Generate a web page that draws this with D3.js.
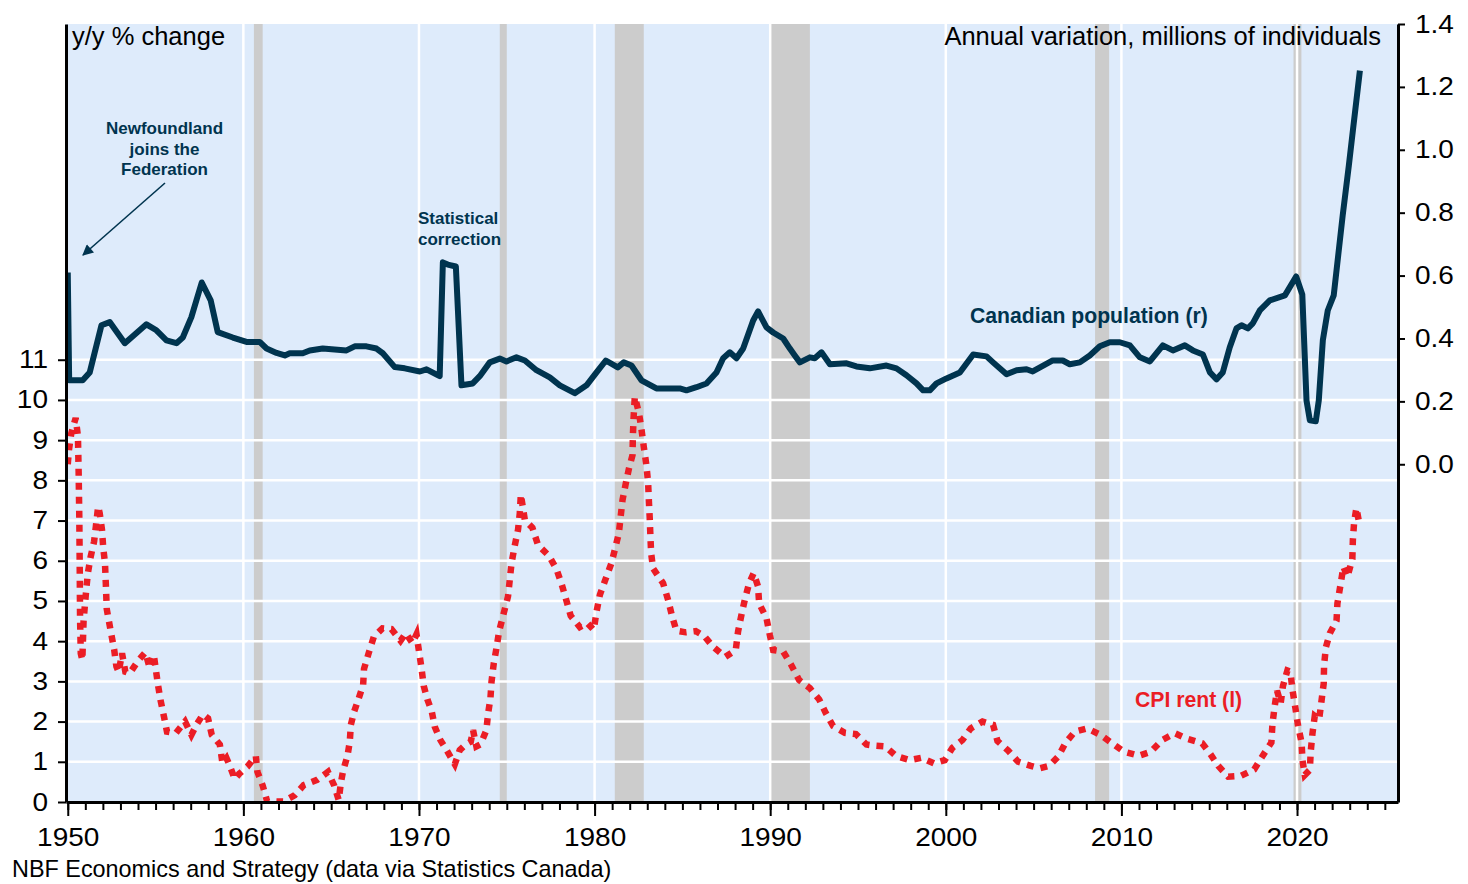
<!DOCTYPE html>
<html>
<head>
<meta charset="utf-8">
<script src="https://cdn.jsdelivr.net/npm/d3@7"></script>
<style>
  body { margin: 0; background: #fff; }
  svg text { font-family: "Liberation Sans", Arial, sans-serif; }
</style>
</head>
<body>
<svg id="chart" width="1468" height="884"></svg>
<script>
// ticks
const yearTicks = [1950, 1960, 1970, 1980, 1990, 2000, 2010, 2020]
const leftTicks = [0, 1, 2, 3, 4, 5, 6, 7, 8, 9, 10, 11]
const rightTicks = [0.0, 0.2, 0.4, 0.6, 0.8, 1.0, 1.2, 1.4]

// recessions (start, end)
const recessions = [[1960.6, 1961.1], [1974.6, 1975.0], [1981.15, 1982.8], [1990.0, 1992.26], [2008.5, 2009.3], [2019.8, 2020.25]]

// Canadian population, annual variation (millions) - right axis
const popDates = [1950.0, 1950.08, 1950.85, 1951.25, 1951.92, 1952.39, 1953.25, 1954.48, 1955.05, 1955.62,
  1956.19, 1956.55, 1957.04, 1957.63, 1958.14, 1958.54, 1959.40, 1960.18, 1960.93, 1961.32,
  1961.89, 1962.36, 1962.64, 1963.38, 1963.78, 1964.52, 1965.87, 1966.34, 1967.01, 1967.58,
  1967.94, 1968.62, 1969.19, 1970.05, 1970.43, 1971.18, 1971.36, 1971.64, 1972.10, 1972.42,
  1973.06, 1973.46, 1974.03, 1974.60, 1974.98, 1975.55, 1976.03, 1976.69, 1977.45, 1978.02,
  1978.87, 1979.54, 1980.11, 1980.64, 1981.32, 1981.66, 1982.10, 1982.67, 1983.52, 1984.85,
  1985.23, 1985.80, 1986.37, 1986.94, 1987.32, 1987.70, 1988.08, 1988.46, 1989.03, 1989.31,
  1989.79, 1990.17, 1990.74, 1991.12, 1991.40, 1991.69, 1992.26, 1992.54, 1992.92, 1993.40,
  1994.35, 1994.91, 1995.67, 1996.62, 1997.19, 1997.76, 1998.33, 1998.71, 1999.09, 1999.47,
  2000.04, 2000.80, 2001.56, 2002.32, 2002.69, 2003.46, 2004.03, 2004.60, 2004.95, 2006.09,
  2006.66, 2007.06, 2007.63, 2008.20, 2008.77, 2009.34, 2009.91, 2010.48, 2011.05, 2011.62,
  2012.36, 2012.93, 2013.61, 2014.07, 2014.64, 2015.04, 2015.42, 2015.77, 2016.17, 2016.55,
  2016.84, 2017.20, 2017.48, 2017.88, 2018.45, 2019.31, 2019.95, 2020.30, 2020.54, 2020.73,
  2021.07, 2021.24, 2021.47, 2021.75, 2022.09, 2022.60, 2022.95, 2023.18, 2023.58]
const popValues = [0.610, 0.267, 0.267, 0.292, 0.442, 0.452, 0.385, 0.445, 0.426, 0.394,
  0.385, 0.403, 0.468, 0.578, 0.521, 0.420, 0.403, 0.389, 0.389, 0.368,
  0.354, 0.346, 0.353, 0.353, 0.362, 0.368, 0.362, 0.375, 0.375, 0.368,
  0.353, 0.309, 0.305, 0.295, 0.302, 0.280, 0.642, 0.635, 0.629, 0.251,
  0.257, 0.280, 0.324, 0.336, 0.327, 0.340, 0.330, 0.299, 0.276, 0.251,
  0.226, 0.251, 0.292, 0.330, 0.308, 0.324, 0.314, 0.267, 0.241, 0.241,
  0.235, 0.245, 0.257, 0.292, 0.337, 0.356, 0.337, 0.368, 0.457, 0.486,
  0.435, 0.419, 0.400, 0.368, 0.346, 0.324, 0.340, 0.337, 0.356, 0.318,
  0.321, 0.311, 0.305, 0.314, 0.305, 0.283, 0.257, 0.235, 0.235, 0.257,
  0.273, 0.292, 0.349, 0.343, 0.324, 0.286, 0.299, 0.302, 0.295, 0.330,
  0.330, 0.318, 0.324, 0.346, 0.375, 0.388, 0.388, 0.378, 0.340, 0.327,
  0.378, 0.362, 0.378, 0.362, 0.349, 0.292, 0.270, 0.292, 0.372, 0.432,
  0.442, 0.432, 0.448, 0.489, 0.521, 0.537, 0.597, 0.540, 0.203, 0.140,
  0.137, 0.203, 0.394, 0.489, 0.537, 0.791, 0.950, 1.061, 1.252]

// CPI rent, y/y % change - left axis
const rentDates = [1950.00, 1950.07, 1950.20, 1950.45, 1950.58, 1950.62, 1950.66, 1950.68, 1950.70, 1950.74,
  1950.83, 1950.90, 1950.97, 1951.06, 1951.15, 1951.29, 1951.50, 1951.60, 1951.73, 1951.82,
  1951.95, 1952.02, 1952.12, 1952.17, 1952.22, 1952.45, 1952.64, 1952.77, 1952.90, 1953.09,
  1953.28, 1953.53, 1954.00, 1954.42, 1954.67, 1954.90, 1955.01, 1955.14, 1955.28, 1955.48,
  1955.65, 1956.15, 1956.68, 1957.04, 1957.33, 1957.70, 1957.99, 1958.20, 1958.66, 1958.81,
  1959.04, 1959.23, 1959.51, 1959.76, 1960.23, 1960.71, 1960.80, 1961.10, 1961.35, 1962.26,
  1962.93, 1963.44, 1964.20, 1964.82, 1965.17, 1965.43, 1965.55, 1965.68, 1965.93, 1966.06,
  1966.12, 1966.31, 1966.57, 1966.82, 1966.87, 1967.14, 1967.43, 1967.92, 1968.43, 1968.95,
  1969.25, 1969.63, 1969.86, 1969.99, 1970.14, 1970.27, 1970.48, 1970.73, 1970.90, 1971.22,
  1971.60, 1972.04, 1972.32, 1972.66, 1972.95, 1973.08, 1973.27, 1973.50, 1973.84, 1973.93,
  1974.07, 1974.13, 1974.26, 1974.41, 1974.56, 1975.07, 1975.27, 1975.46, 1975.64, 1975.74,
  1975.80, 1976.03, 1976.46, 1976.78, 1976.97, 1977.41, 1977.83, 1978.11, 1978.40, 1978.64,
  1979.16, 1979.59, 1979.95, 1980.11, 1980.30, 1980.64, 1980.96, 1981.15, 1981.38, 1981.59,
  1981.78, 1981.96, 1982.16, 1982.18, 1982.22, 1982.29, 1982.53, 1982.67, 1982.80, 1982.95,
  1983.05, 1983.09, 1983.14, 1983.18, 1983.22, 1983.33, 1983.90, 1984.19, 1984.42, 1984.66,
  1985.19, 1985.76, 1986.24, 1986.75, 1987.45, 1988.04, 1988.17, 1988.36, 1988.55, 1988.80,
  1989.06, 1989.31, 1989.37, 1989.79, 1989.98, 1990.17, 1990.74, 1991.17, 1991.65, 1992.26,
  1992.79, 1993.17, 1993.58, 1994.25, 1994.88, 1995.48, 1995.96, 1996.56, 1997.15, 1997.95,
  1998.61, 1999.33, 1999.94, 2000.38, 2000.95, 2001.42, 2002.09, 2002.69, 2002.94, 2003.55,
  2004.12, 2004.84, 2005.35, 2005.88, 2006.40, 2006.83, 2007.35, 2008.05, 2008.81, 2009.47,
  2010.15, 2010.99, 2011.67, 2012.32, 2013.04, 2013.76, 2014.60, 2015.07, 2015.51, 2016.08,
  2016.80, 2017.56, 2018.03, 2018.54, 2018.60, 2018.73, 2018.86, 2019.07, 2019.20, 2019.45,
  2019.62, 2019.74, 2019.91, 2020.06, 2020.26, 2020.31, 2020.44, 2020.73, 2020.78, 2020.88,
  2021.01, 2021.26, 2021.39, 2021.52, 2021.54, 2021.64, 2021.87, 2022.25, 2022.30, 2022.49,
  2022.64, 2022.87, 2023.15, 2023.18, 2023.25, 2023.38, 2023.53]
const rentValues = [8.40, 8.76, 9.17, 9.55, 9.10, 8.20, 7.00, 5.90, 4.60, 3.70,
  3.53, 4.50, 4.86, 5.32, 5.70, 6.07, 6.48, 6.85, 7.35, 7.18,
  6.77, 6.32, 5.94, 5.40, 4.80, 4.24, 3.80, 3.37, 3.23, 3.70,
  3.24, 3.20, 3.51, 3.72, 3.33, 3.66, 3.31, 2.91, 2.54, 2.12,
  1.75, 1.71, 2.00, 1.67, 1.92, 2.18, 2.08, 1.67, 1.43, 0.96,
  1.09, 0.90, 0.57, 0.70, 0.88, 1.14, 0.75, 0.41, 0.02, 0.01,
  0.17, 0.42, 0.55, 0.75, 0.41, 0.05, 0.47, 0.78, 1.15, 1.50,
  1.92, 2.25, 2.58, 2.91, 3.31, 3.71, 4.11, 4.32, 4.30, 4.01,
  4.20, 3.95, 4.17, 3.78, 3.34, 2.89, 2.55, 2.25, 1.87, 1.54,
  1.27, 0.94, 1.29, 1.43, 1.50, 1.79, 1.38, 1.43, 1.79, 2.18,
  2.58, 2.99, 3.45, 3.82, 4.24, 5.11, 5.94, 6.39, 6.77, 7.18,
  7.65, 7.01, 6.82, 6.39, 6.31, 6.12, 5.79, 5.44, 5.00, 4.63,
  4.35, 4.45, 4.28, 4.73, 5.15, 5.56, 5.94, 6.27, 6.68, 7.51,
  7.93, 8.30, 8.63, 9.09, 9.55, 10.08, 9.67, 9.27, 8.84, 8.38,
  7.93, 7.51, 7.06, 6.60, 6.19, 5.81, 5.44, 5.02, 4.61, 4.26,
  4.22, 4.25, 4.13, 3.86, 3.61, 3.78, 4.24, 4.65, 5.02, 5.44,
  5.69, 5.36, 4.94, 4.57, 4.15, 3.78, 3.74, 3.43, 3.03, 2.83,
  2.55, 2.21, 1.89, 1.72, 1.69, 1.43, 1.40, 1.38, 1.15, 1.04,
  1.10, 0.96, 1.04, 1.35, 1.54, 1.83, 2.00, 1.92, 1.52, 1.28,
  1.00, 0.90, 0.84, 0.90, 1.13, 1.48, 1.75, 1.83, 1.67, 1.46,
  1.25, 1.15, 1.25, 1.54, 1.71, 1.57, 1.46, 1.19, 0.90, 0.63,
  0.65, 0.81, 1.14, 1.48, 1.94, 2.39, 2.77, 2.46, 2.89, 3.27,
  3.24, 2.79, 2.33, 1.89, 1.48, 1.04, 0.67, 0.80, 1.25, 1.71,
  2.14, 2.06, 2.50, 2.95, 3.39, 3.84, 4.20, 4.51, 4.94, 5.44,
  5.85, 5.60, 6.04, 6.52, 6.95, 7.31, 6.97]

const navy = '#00344F'
const red = '#EB1D25'

const plotL = 66, plotR = 1398, plotT = 24, plotB = 802

const svg = d3.select('#chart')

const x = d3.scaleLinear().domain([1949.9, 2025.75]).range([plotL, plotR])
const yL = d3.scaleLinear().domain([0, 19.35]).range([plotB, plotT])
const yR = d3.scaleLinear().domain([-1.074, 1.4]).range([plotB, plotT])

// stretch numbers a bit wider, like the original
function stretch (sel, k) {
  sel.each(function () {
    const t = d3.select(this)
    const tx = +t.attr('x') || 0
    t.attr('transform', `translate(${tx},0) scale(${k},1) translate(${-tx},0)`)
  })
}

// plot background
svg.append('rect')
  .attr('x', plotL).attr('y', plotT)
  .attr('width', plotR - plotL).attr('height', plotB - plotT)
  .attr('fill', '#DEEBFB')

svg.append('clipPath').attr('id', 'plot')
  .append('rect')
  .attr('x', plotL).attr('y', plotT)
  .attr('width', plotR - plotL).attr('height', plotB - plotT)

// recession bars
svg.append('g')
  .selectAll('rect')
  .data(recessions)
  .enter().append('rect')
    .attr('x', d => x(d[0]))
    .attr('y', plotT)
    .attr('width', d => x(d[1]) - x(d[0]))
    .attr('height', plotB - plotT)
    .attr('fill', '#CCCCCC')

// gridlines
svg.append('g')
  .selectAll('line')
  .data(leftTicks.filter(d => d > 0))
  .enter().append('line')
    .attr('x1', plotL).attr('x2', plotR)
    .attr('y1', d => yL(d)).attr('y2', d => yL(d))
    .attr('stroke', '#fff').attr('stroke-width', 2.5)

svg.append('g')
  .selectAll('line')
  .data(yearTicks.filter(d => d > 1950))
  .enter().append('line')
    .attr('x1', d => x(d)).attr('x2', d => x(d))
    .attr('y1', plotT).attr('y2', plotB)
    .attr('stroke', '#fff').attr('stroke-width', 2.5)

// lines
const rentData = rentDates.map((d, i) => [d, rentValues[i]])
const popData = popDates.map((d, i) => [d, popValues[i]])

const plot = svg.append('g').attr('clip-path', 'url(#plot)')

plot.append('path')
  .datum(rentData)
  .attr('d', d3.line().x(d => x(d[0])).y(d => yL(d[1])))
  .attr('fill', 'none')
  .attr('stroke', red)
  .attr('stroke-width', 6.5)
  .attr('stroke-dasharray', '7,7')

plot.append('path')
  .datum(popData)
  .attr('d', d3.line().x(d => x(d[0])).y(d => yR(d[1])))
  .attr('fill', 'none')
  .attr('stroke', navy)
  .attr('stroke-width', 6)
  .attr('stroke-linejoin', 'round')

// axes
const fs = '25px'

const xMinor = svg.append('g')
  .attr('transform', `translate(0,${plotB})`)
  .call(d3.axisBottom(x).tickValues(d3.range(1950, 2026)).tickSize(8).tickFormat('').tickSizeOuter(0))
xMinor.select('.domain').remove()
xMinor.selectAll('line').attr('stroke', '#000').attr('stroke-width', 2)

const xAxis = svg.append('g')
  .attr('transform', `translate(0,${plotB})`)
  .call(d3.axisBottom(x).tickValues(yearTicks).tickSize(14).tickPadding(12).tickFormat(d3.format('d')).tickSizeOuter(0))
xAxis.select('.domain').attr('stroke', '#000').attr('stroke-width', 3)
xAxis.selectAll('line').attr('stroke', '#000').attr('stroke-width', 2)
xAxis.selectAll('text').attr('fill', '#000').style('font-size', fs).call(stretch, 1.12)

const yAxisL = svg.append('g')
  .attr('transform', `translate(${plotL},0)`)
  .call(d3.axisLeft(yL).tickValues(leftTicks).tickSize(8).tickPadding(10).tickSizeOuter(0))
yAxisL.select('.domain').attr('stroke', '#000').attr('stroke-width', 3)
yAxisL.selectAll('line').attr('stroke', '#000').attr('stroke-width', 2)
yAxisL.selectAll('text').attr('fill', '#000').style('font-size', fs).call(stretch, 1.12)

const yAxisR = svg.append('g')
  .attr('transform', `translate(${plotR},0)`)
  .call(d3.axisRight(yR).tickValues(rightTicks).tickSize(7).tickPadding(10).tickFormat(d3.format('.1f')).tickSizeOuter(0))
yAxisR.select('.domain').attr('stroke', '#000').attr('stroke-width', 3)
yAxisR.selectAll('line').attr('stroke', '#000').attr('stroke-width', 2)
yAxisR.selectAll('text').attr('fill', '#000').style('font-size', fs).call(stretch, 1.12)

// titles
svg.append('text')
  .attr('x', 72).attr('y', 45)
  .style('font-size', '25.5px')
  .text('y/y % change')

svg.append('text')
  .attr('x', 1381).attr('y', 45)
  .attr('text-anchor', 'end')
  .style('font-size', '25.5px')
  .text('Annual variation, millions of individuals')

svg.append('text')
  .attr('x', 12).attr('y', 877)
  .style('font-size', '23.4px')
  .text('NBF Economics and Strategy (data via Statistics Canada)')

// annotations
const nfld = svg.append('text')
  .attr('text-anchor', 'middle')
  .style('font-size', '17px').style('font-weight', 'bold')
  .attr('fill', navy)
;['Newfoundland', 'joins the', 'Federation'].forEach((t, i) => {
  nfld.append('tspan').attr('x', 164.5).attr('y', 134 + i * 20.5).text(t)
})

svg.append('defs').append('marker')
  .attr('id', 'arrow')
  .attr('viewBox', '0 0 10 10')
  .attr('refX', 9).attr('refY', 5)
  .attr('markerWidth', 12).attr('markerHeight', 11)
  .attr('markerUnits', 'userSpaceOnUse')
  .attr('orient', 'auto')
  .append('path')
    .attr('d', 'M0,0 L10,5 L0,10 Z')
    .attr('fill', navy)

svg.append('line')
  .attr('x1', 165).attr('y1', 183)
  .attr('x2', 83).attr('y2', 255)
  .attr('stroke', navy).attr('stroke-width', 1.6)
  .attr('marker-end', 'url(#arrow)')

const stat = svg.append('text')
  .style('font-size', '17px').style('font-weight', 'bold')
  .attr('fill', navy)
;['Statistical', 'correction'].forEach((t, i) => {
  stat.append('tspan').attr('x', 418).attr('y', 224 + i * 21).text(t)
})

svg.append('text')
  .attr('x', 970).attr('y', 323)
  .style('font-size', '21.2px').style('font-weight', 'bold')
  .attr('fill', navy)
  .text('Canadian population (r)')

svg.append('text')
  .attr('x', 1135).attr('y', 707)
  .style('font-size', '21.2px').style('font-weight', 'bold')
  .attr('fill', red)
  .text('CPI rent (l)')
</script>
</body>
</html>
